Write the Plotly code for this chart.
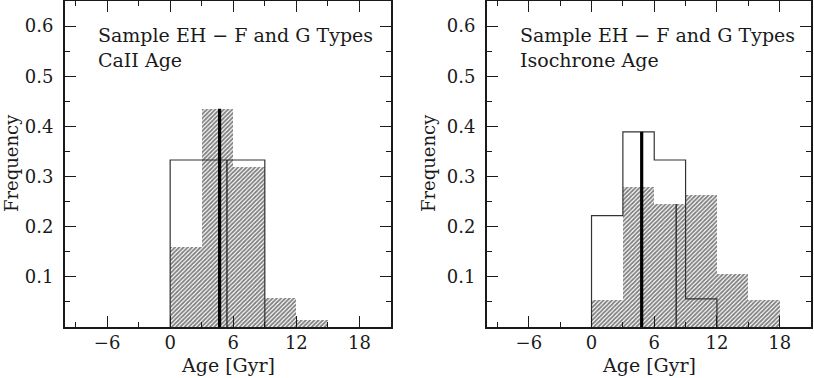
import plotly.graph_objects as go
from plotly.subplots import make_subplots

# histogram bins (Gyr)
bin_edges = [0, 3, 6, 9, 12, 15, 18]

# left panel: CaII age
caii_hatched = [0.160, 0.435, 0.320, 0.058, 0.014, 0.0]
caii_outline = [0.333, 0.333, 0.333]
caii_median_thick = (4.7, 0.435)
caii_median_thin = (5.4, 0.333)

# right panel: isochrone age
iso_hatched = [0.053, 0.280, 0.245, 0.263, 0.105, 0.053]
iso_outline = [0.222, 0.389, 0.333, 0.056]
iso_median_thick = (4.8, 0.389)
iso_median_thin = (8.1, 0.245)

panel_labels = ["CaII Age", "Isochrone Age"]
title_line = "Sample EH \u2212 F and G Types"

W, H = 814, 378
FONT = "DejaVu Serif"
FS = 18
INK = "#1a1a1a"

fig = make_subplots(rows=1, cols=2)

panels = [
    (caii_hatched, caii_outline, caii_median_thick, caii_median_thin),
    (iso_hatched, iso_outline, iso_median_thick, iso_median_thin),
]

for i, (hatched, outline, thick, thin) in enumerate(panels, start=1):
    centers = [(bin_edges[k] + bin_edges[k + 1]) / 2 for k in range(len(hatched))]
    widths = [bin_edges[k + 1] - bin_edges[k] for k in range(len(hatched))]
    fig.add_trace(go.Bar(
        x=centers, y=hatched, width=widths,
        marker=dict(color="white", line=dict(width=0),
                    pattern=dict(shape="/", size=3, solidity=0.6,
                                 fgcolor="black", bgcolor="white")),
        showlegend=False,
    ), row=1, col=i)

    # open step histogram
    n = len(outline)
    sx = [bin_edges[0]] + bin_edges[:n] + [bin_edges[n]]
    sy = [0] + outline + [0]
    fig.add_trace(go.Scatter(
        x=sx, y=sy, mode="lines", line=dict(shape="hv", color="#333", width=1.2),
        showlegend=False,
    ), row=1, col=i)

    fig.add_trace(go.Scatter(
        x=[thin[0], thin[0]], y=[0, thin[1]], mode="lines",
        line=dict(color="#222", width=1.3), showlegend=False,
    ), row=1, col=i)
    fig.add_trace(go.Scatter(
        x=[thick[0], thick[0]], y=[0, thick[1]], mode="lines",
        line=dict(color="black", width=3.2), showlegend=False,
    ), row=1, col=i)

x_domains = [[65 / W, 391 / W], [487 / W, 811 / W]]
y_domain = [51 / H, 1 - 1 / H]

axis_common = dict(
    showline=True, linecolor=INK, linewidth=2, mirror="allticks",
    ticks="inside", ticklen=11, tickwidth=1.2, tickcolor=INK,
    showgrid=False, zeroline=False,
    tickfont=dict(family=FONT, size=FS, color=INK),
)

for i in (1, 2):
    xa = "xaxis" if i == 1 else "xaxis2"
    ya = "yaxis" if i == 1 else "yaxis2"
    fig.update_layout({
        xa: dict(axis_common, domain=x_domains[i - 1], range=[-10, 21],
                 tickvals=[-6, 0, 6, 12, 18], ticktext=["\u22126", "0", "6", "12", "18"],
                 ticklabelstandoff=-2,
                 minor=dict(ticks="inside", ticklen=5, tickwidth=1.2, tickcolor=INK,
                            tick0=0, dtick=3)),
        ya: dict(axis_common, domain=y_domain, range=[0, 0.65],
                 tickvals=[0.1, 0.2, 0.3, 0.4, 0.5, 0.6],
                 ticktext=["0.1", "0.2", "0.3", "0.4", "0.5", "0.6"],
                 ticklabelstandoff=6,
                 minor=dict(ticks="inside", ticklen=5, tickwidth=1.2, tickcolor=INK,
                            tick0=0, dtick=0.05)),
    })

annotations = []
for i, xl in enumerate([96, 518]):
    annotations.append(dict(x=xl / W, y=1 - 35 / H, xref="paper", yref="paper",
                            text=title_line, showarrow=False, xanchor="left", yanchor="middle",
                            font=dict(family=FONT, size=19, color=INK)))
    annotations.append(dict(x=xl / W, y=1 - 60 / H, xref="paper", yref="paper",
                            text=panel_labels[i], showarrow=False, xanchor="left", yanchor="middle",
                            font=dict(family=FONT, size=19, color=INK)))
for xc in (227.5, 649):
    annotations.append(dict(x=xc / W, y=1 - 365 / H, xref="paper", yref="paper",
                            text="Age [Gyr]", showarrow=False, xanchor="center", yanchor="middle",
                            font=dict(family=FONT, size=19, color=INK)))
for xc in (12, 429):
    annotations.append(dict(x=xc / W, y=1 - 163 / H, xref="paper", yref="paper",
                            text="Frequency", showarrow=False, textangle=-90,
                            xanchor="center", yanchor="middle",
                            font=dict(family=FONT, size=FS, color=INK)))

fig.update_layout(
    width=W, height=H, margin=dict(l=0, r=0, t=0, b=0),
    paper_bgcolor="white", plot_bgcolor="white",
    barmode="overlay", bargap=0, showlegend=False,
    annotations=annotations,
)

# drop the default page margin so the figure sits at the window's corner
fig.write_html("out.html", config={"displayModeBar": False},
               post_script="document.body.style.margin='0px';")
